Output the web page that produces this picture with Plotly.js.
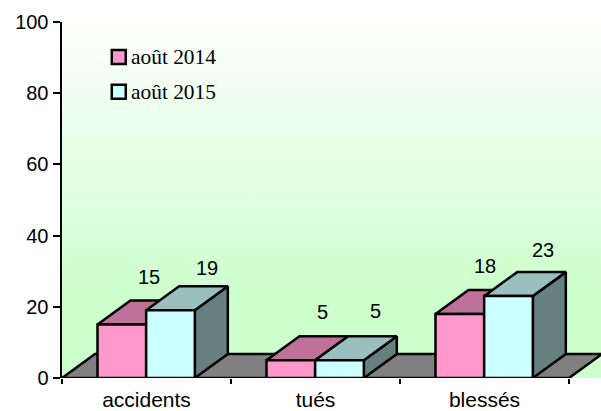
<!DOCTYPE html>
<html>
<head>
<meta charset="utf-8">
<script src="https://cdn.plot.ly/plotly-3.0.1.min.js"></script>
<style>html,body{margin:0;padding:0;background:#fff}#c{width:601px;height:411px}</style>
</head>
<body>
<div id="c"></div>
<script>
const categories = ['accidents', 'tués', 'blessés'];
const seriesNames = ['août 2014', 'août 2015'];
const aout2014 = [15, 5, 18];
const aout2015 = [19, 5, 23];
const yTicks = [0, 20, 40, 60, 80, 100];
const faceColors2014 = {front: '#FF99CC', top: '#BF7299', side: '#996680'};
const faceColors2015 = {front: '#CCFFFF', top: '#99BFBF', side: '#668080'};
const labelNudge2014 = [[28, 48], [33, 48], [26, 48]];
const labelNudge2015 = [[37, 42], [37, 49], [35, 46]];

const pxX = 169, pxY = 3.56;
const depthX = 33 / pxX, depthY = 24 / pxY;
const barW = 0.288, barOff = 0.21;
const edge = {color: '#000', width: 2.5};

function polys(values, seriesIdx, face) {
  const xs = [], ys = [];
  values.forEach((v, i) => {
    const a = i + barOff + seriesIdx * barW, b = a + barW;
    let p;
    if (face === 'front') p = [[a, 0], [b, 0], [b, v], [a, v], [a, 0]];
    if (face === 'top') p = [[a, v], [b, v], [b + depthX, v + depthY], [a + depthX, v + depthY], [a, v]];
    if (face === 'side') p = [[b, 0], [b + depthX, depthY], [b + depthX, v + depthY], [b, v], [b, 0]];
    p.forEach(q => { xs.push(q[0]); ys.push(q[1]); });
    xs.push(null); ys.push(null);
  });
  return {x: xs, y: ys};
}
function face(values, idx, f, color) {
  const p = polys(values, idx, f);
  return {x: p.x, y: p.y, type: 'scatter', mode: 'lines', fill: 'toself', fillcolor: color,
    line: edge, hoverinfo: 'skip', showlegend: false, cliponaxis: false};
}
const xRight = 3 + depthX;
const wall = {x: [0, xRight, xRight, 0, 0], y: [0, 0, 100, 100, 0], type: 'scatter', mode: 'lines',
  fill: 'toself', line: {width: 0, color: 'rgba(0,0,0,0)'}, hoverinfo: 'skip', showlegend: false, cliponaxis: false,
  fillgradient: {type: 'vertical', colorscale: [[0, '#CCFFCC'], [0.22, '#CCFFCC'], [1, '#FDFFFD']]}};
const floor = {x: [0, depthX, xRight, 3, 0], y: [0, depthY, depthY, 0, 0], type: 'scatter', mode: 'lines',
  fill: 'toself', fillcolor: '#808080', line: edge, hoverinfo: 'skip', showlegend: false, cliponaxis: false};

const traces = [wall, floor];
['side', 'top', 'front'].forEach(f => traces.push(face(aout2014, 0, f, faceColors2014[f])));
['side', 'top', 'front'].forEach(f => traces.push(face(aout2015, 1, f, faceColors2015[f])));

const annotations = [];
const keyX = 0.336;
[[seriesNames[0], 90.2, faceColors2014.front], [seriesNames[1], 80.4, faceColors2015.front]].forEach(k => {
  traces.push({x: [keyX], y: [k[1]], type: 'scatter', mode: 'markers', name: k[0],
    marker: {symbol: 'square', size: 14, color: k[2], line: {color: '#000', width: 2.5}},
    hoverinfo: 'skip', showlegend: false, cliponaxis: false});
  annotations.push({x: keyX, y: k[1], xref: 'x', yref: 'y', text: k[0], showarrow: false, xanchor: 'left', yanchor: 'middle',
    xshift: 10, yshift: 0, font: {family: 'Liberation Serif', size: 21.4, color: '#000'}});
});

[[aout2014, 0, labelNudge2014], [aout2015, 1, labelNudge2015]].forEach(s => {
  s[0].forEach((v, i) => {
    annotations.push({x: i + barOff + (s[1] + 0.5) * barW, y: v, xref: 'x', yref: 'y', text: String(v),
      showarrow: false, xshift: s[2][i][0] - 1, yshift: s[2][i][1], yanchor: 'middle', xanchor: 'center',
      font: {family: 'Liberation Sans', size: 20, color: '#000'}});
  });
});

const layout = {
  width: 601, height: 411, margin: {l: 62, r: 0, t: 22, b: 33, pad: 0},
  paper_bgcolor: '#fff', plot_bgcolor: 'rgba(0,0,0,0)', showlegend: false,
  font: {family: 'Liberation Sans', size: 20, color: '#000'},
  xaxis: {range: [0, 539 / pxX], tickmode: 'array', tickvals: [0.5, 1.5, 2.5], ticktext: categories, ticks: '', showgrid: false,
    tickfont: {size: 21}, ticklabelstandoff: 7, zeroline: false, showline: false, fixedrange: true, layer: 'above traces',
    minor: {tickmode: 'array', tickvals: [0, 1, 2, 3], ticks: 'outside', ticklen: 5, tickwidth: 2, tickcolor: '#000', showgrid: false}},
  yaxis: {range: [0, 100], tickmode: 'array', tickvals: yTicks, ticks: 'outside', ticklen: 7, tickwidth: 2, tickcolor: '#000',
    showgrid: false, zeroline: false, showline: true, linecolor: '#000', linewidth: 2.5, fixedrange: true, layer: 'above traces'},
  annotations: annotations
};
Plotly.newPlot('c', traces, layout, {staticPlot: true, displayModeBar: false});
</script>
</body>
</html>
